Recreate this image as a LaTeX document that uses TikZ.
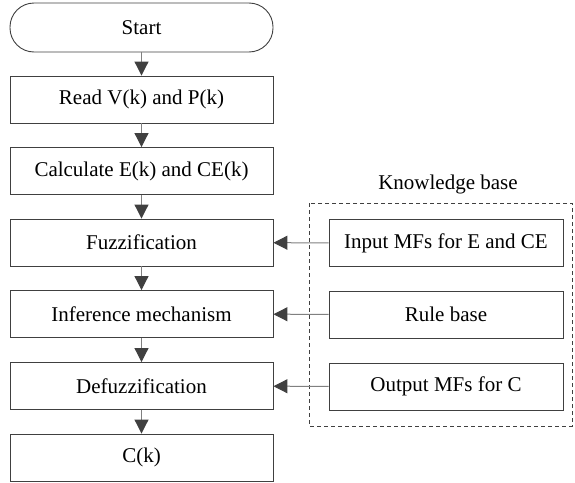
\documentclass[tikz,border=0pt]{standalone}
\usepackage{fontspec}
\setmainfont{Liberation Serif}
\usetikzlibrary{arrows.meta}
\begin{document}
\begin{tikzpicture}[x=1pt,y=-1pt,
  box/.style={draw=black!75, line width=0.9pt, minimum width=263pt, minimum height=47pt, inner sep=0pt, font=\fontsize{21}{24}\selectfont},
  kbox/.style={draw=black!75, line width=0.9pt, minimum width=234pt, minimum height=47pt, inner sep=0pt, font=\fontsize{21}{24}\selectfont},
  arr/.style={draw=black!50, line width=1pt, -{Triangle[length=14pt,width=14pt,fill=black!75,color=black!75]}}]
\useasboundingbox (0,0) rectangle (575,482);
\node[box, rounded corners=24pt, minimum height=49pt] (start) at (141.5,27.5) {Start};
\node[box] (read) at (141.5,99.5) {Read V(k) and P(k)};
\node[box] (calc) at (141.5,171) {Calculate E(k) and CE(k)};
\node[box] (fuzz) at (141.5,242.5) {Fuzzification};
\node[box] (inf) at (141.5,314) {Inference mechanism};
\node[box] (defuzz) at (141.5,386) {Defuzzification};
\node[box] (ck) at (141.5,457.5) {C(k)};
\node[kbox] (inmf) at (446,243) {Input MFs for E and CE};
\node[kbox] (rule) at (446,314.5) {Rule base};
\node[kbox] (outmf) at (446,386.5) {Output MFs for C};
\draw[black!75, line width=0.9pt, dashed, dash pattern=on 4pt off 3pt] (309,203) rectangle (572,426);
\node[font=\fontsize{21}{24}\selectfont] (kb) at (448,184) {Knowledge base};
\draw[arr] (start) -- (read);
\draw[arr] (read) -- (calc);
\draw[arr] (calc) -- (fuzz);
\draw[arr] (fuzz) -- (inf);
\draw[arr] (inf) -- (defuzz);
\draw[arr] (defuzz) -- (ck);
\draw[arr] (inmf) -- (fuzz);
\draw[arr] (rule) -- (inf);
\draw[arr] (outmf) -- (defuzz);
\end{tikzpicture}
\end{document}
